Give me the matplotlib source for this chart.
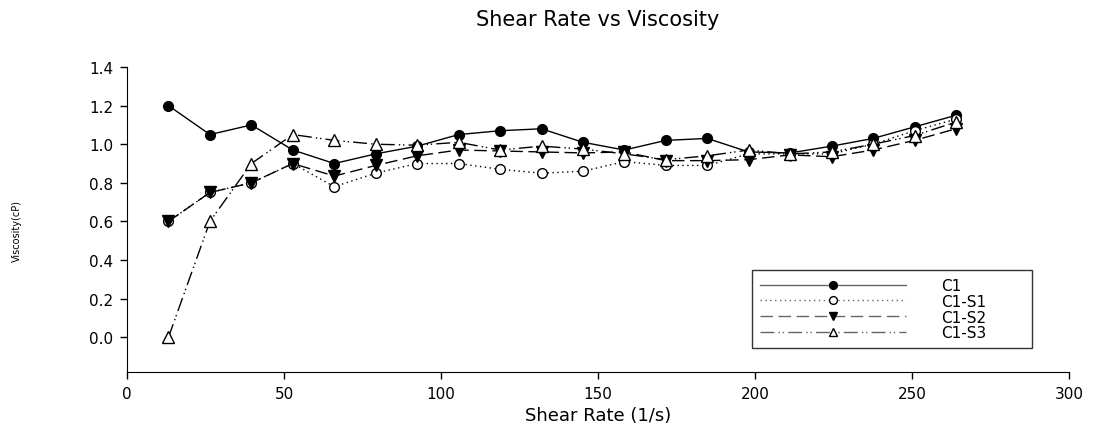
import numpy as np
import matplotlib
matplotlib.use('Agg')
import matplotlib.pyplot as plt

plt.rcParams['font.family'] = ['DejaVu Sans']

# shear rate (1/s)
shear = [13.2, 26.4, 39.6, 52.8, 66.0, 79.2, 92.4, 105.6, 118.8, 132.0,
         145.2, 158.4, 171.6, 184.8, 198.0, 211.2, 224.4, 237.6, 250.8, 264.0]

# viscosity (cP) for each sample
c1 = [1.20, 1.05, 1.10, 0.97, 0.90, 0.95, 0.99, 1.05, 1.07, 1.08,
      1.01, 0.97, 1.02, 1.03, 0.96, 0.955, 0.99, 1.03, 1.09, 1.15]
c1_s1 = [0.60, 0.75, 0.80, 0.90, 0.78, 0.85, 0.90, 0.90, 0.87, 0.85,
         0.86, 0.91, 0.89, 0.89, 0.95, 0.95, 0.95, 1.00, 1.07, 1.13]
c1_s2 = [0.60, 0.75, 0.80, 0.90, 0.835, 0.89, 0.94, 0.97, 0.965, 0.96,
         0.955, 0.96, 0.915, 0.915, 0.92, 0.945, 0.935, 0.97, 1.02, 1.08]
c1_s3 = [0.00, 0.60, 0.90, 1.05, 1.02, 1.00, 0.995, 1.01, 0.97, 0.99,
         0.975, 0.95, 0.92, 0.94, 0.97, 0.95, 0.96, 1.00, 1.045, 1.115]

labels = ['C1', 'C1-S1', 'C1-S2', 'C1-S3']
xticks = [0, 50, 100, 150, 200, 250, 300]
yticks = [0.0, 0.2, 0.4, 0.6, 0.8, 1.0, 1.2, 1.4]

fig = plt.figure(figsize=(10.97, 4.27), dpi=100)
ax = fig.add_axes([0.1158, 0.1265, 0.8587, 0.7142])

ms = 7
ax.plot(shear, c1, color='black', lw=1, ls='-', marker='o', ms=ms,
        mfc='black', mec='black', label=labels[0])
ax.plot(shear, c1_s1, color='black', lw=1, ls=(0, (1, 2.5)), marker='o', ms=ms,
        mfc='white', mec='black', label=labels[1])
ax.plot(shear, c1_s2, color='black', lw=1, ls=(0, (9, 4)), marker='v', ms=ms + 1,
        mfc='black', mec='black', label=labels[2])
ax.plot(shear, c1_s3, color='black', lw=1, ls=(0, (10, 3, 1, 2, 1, 3)), marker='^',
        ms=ms + 1, mfc='white', mec='black', label=labels[3])

ax.set_xlim(0, 300)
ax.set_ylim(-0.18, 1.4)
ax.set_xticks(xticks)
ax.set_yticks(yticks)
ax.set_yticklabels(['%.1f' % v for v in yticks])
ax.tick_params(direction='out', length=5, width=1, labelsize=11, pad=5)
ax.spines['top'].set_visible(False)
ax.spines['right'].set_visible(False)

ax.set_xlabel('Shear Rate (1/s)', fontsize=13, labelpad=4)
fig.text(0.545, 0.953, 'Shear Rate vs Viscosity', ha='center', va='center', fontsize=15)
fig.text(0.015, 0.46, 'Viscosity(cP)', rotation=90, ha='center', va='center', fontsize=7)

leg = ax.legend(loc='lower left', bbox_to_anchor=(0.6635, 0.0787, 0.2977, 0.249),
                mode='expand', borderaxespad=0, numpoints=1, frameon=True,
                fancybox=False, edgecolor='black', fontsize=11, markerscale=0.8,
                handlelength=9.6, handletextpad=2.3, labelspacing=0.05, borderpad=0.5)
leg.get_frame().set_linewidth(1)
for h in leg.legend_handles:
    h.set_color('0.4')

fig.savefig('out.png', dpi=100)
